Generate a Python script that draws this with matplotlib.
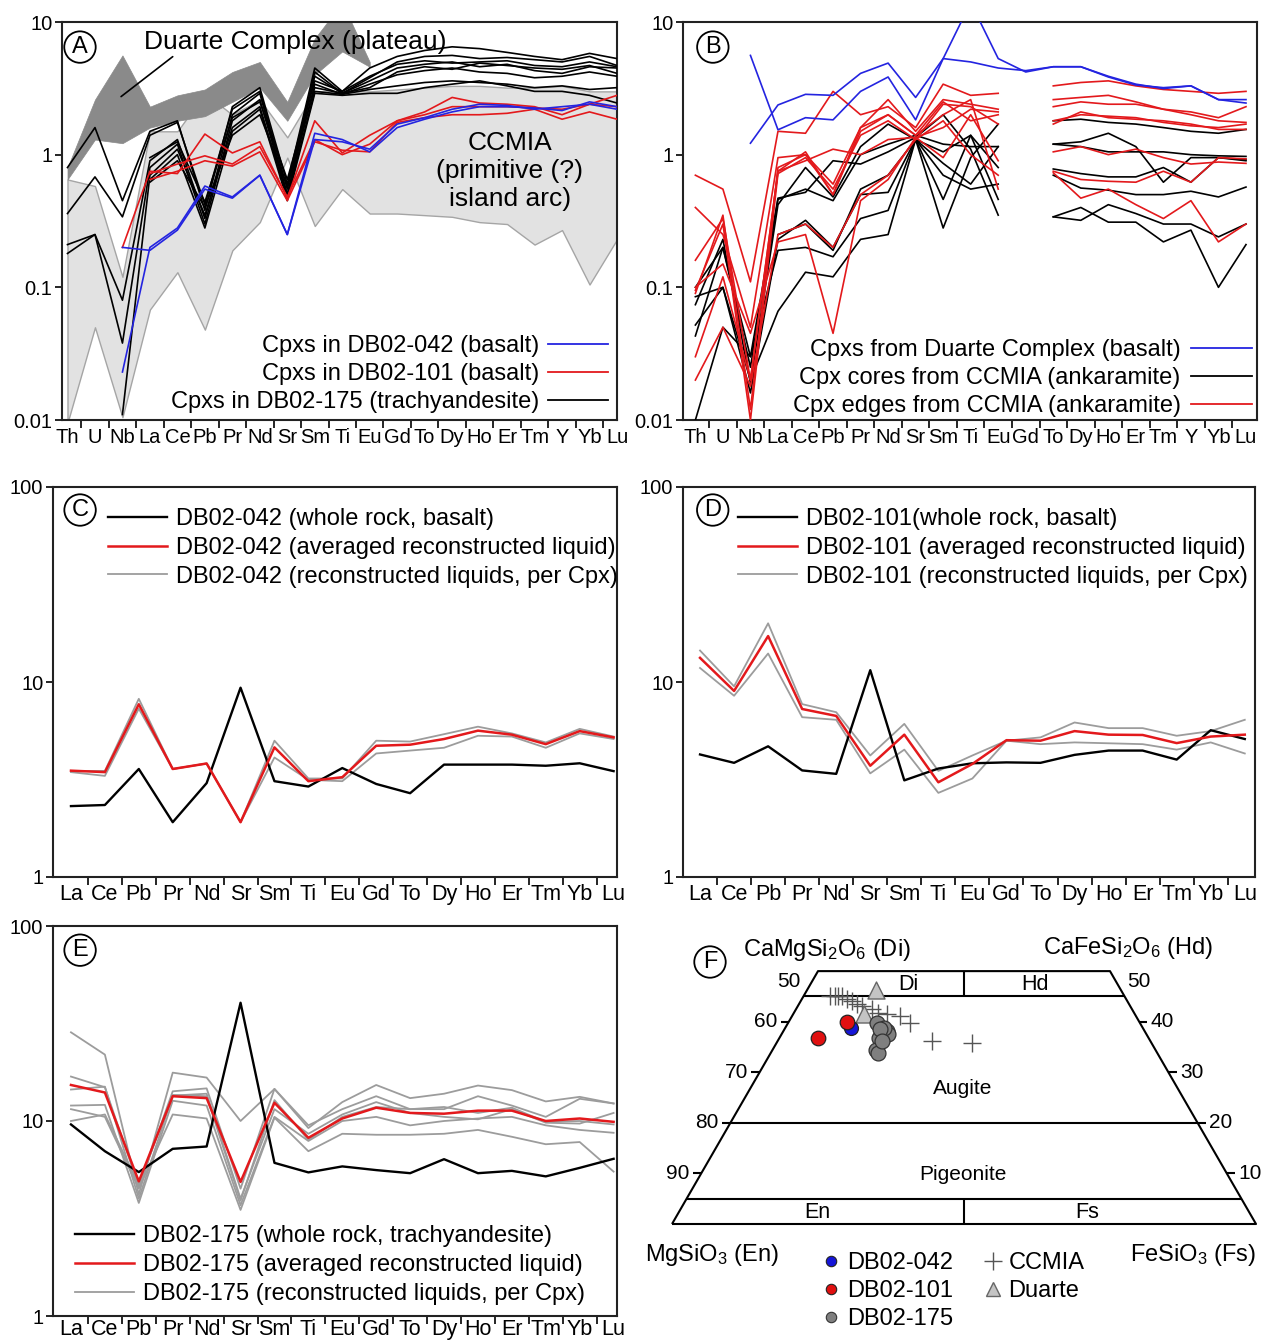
import matplotlib

matplotlib.use("Agg")

import matplotlib.pyplot as plt
import numpy as np
from matplotlib.lines import Line2D
from matplotlib.ticker import FixedLocator, NullLocator

plt.rcParams["font.family"] = ["Liberation Sans", "DejaVu Sans"]
plt.rcParams["mathtext.fontset"] = "custom"
plt.rcParams["mathtext.rm"] = "Liberation Sans"
plt.rcParams["mathtext.it"] = "Liberation Sans:italic"
plt.rcParams["mathtext.bf"] = "Liberation Sans:bold"

nan = np.nan

# ---------------------------------------------------------------- data
ELEM_AB = ["Th", "U", "Nb", "La", "Ce", "Pb", "Pr", "Nd", "Sr", "Sm", "Ti",
           "Eu", "Gd", "To", "Dy", "Ho", "Er", "Tm", "Y", "Yb", "Lu"]
ELEM_CDE = ["La", "Ce", "Pb", "Pr", "Nd", "Sr", "Sm", "Ti", "Eu", "Gd", "To",
            "Dy", "Ho", "Er", "Tm", "Yb", "Lu"]

# panel A: fields (Duarte Th..Eu, CCMIA Th..Lu)
DUARTE_HI = [0.8, 2.6, 5.6, 2.3, 2.8, 3.1, 4.2, 5.0, 2.5, 7.5, 14.0, 5.0]
DUARTE_LO = [0.65, 1.3, 1.22, 1.6, 1.8, 1.95, 2.5, 3.2, 1.8, 4.0, 6.0, 4.6]
CCMIA_HI = [0.65, 0.58, 0.12, 1.5, 1.5, 2.9, 2.0, 2.6, 1.35, 3.0, 3.0, 3.0,
            3.1, 3.2, 3.3, 3.3, 3.2, 3.2, 3.3, 3.0, 3.0]
CCMIA_LO = [0.0095, 0.05, 0.0105, 0.068, 0.13, 0.048, 0.19, 0.31, 0.95, 0.29,
            0.55, 0.36, 0.36, 0.35, 0.34, 0.31, 0.30, 0.21, 0.27, 0.105, 0.23]

# panel A: cpx patterns
A_DB042 = [
    [nan, nan, 0.2, 0.19, 0.27, 0.55, 0.47, 0.7, 0.25, 1.45, 1.3, 1.05, 1.6, 1.85, 2.1, 2.3, 2.3, 2.25, 2.15, 2.5, 2.3],
    [nan, nan, 0.023, 0.2, 0.28, 0.58, 0.48, 0.7, 0.25, 1.3, 1.25, 1.1, 1.7, 1.9, 2.2, 2.4, 2.35, 2.2, 2.3, 2.4, 2.2],
]
A_DB101 = [
    [nan, nan, 0.2, 0.75, 0.72, 1.43, 1.03, 1.25, 0.47, 1.8, 1.03, 1.4, 1.8, 2.1, 2.7, 2.45, 2.4, 2.3, 2.0, 2.4, 2.8],
    [nan, nan, nan, 0.72, 0.85, 0.98, 0.85, 1.15, 0.48, 1.3, 1.0, 1.2, 1.8, 2.0, 2.3, 2.3, 2.3, 2.25, 2.2, 2.4, 2.3],
    [nan, nan, nan, 0.65, 0.75, 0.9, 0.82, 1.05, 0.45, 1.25, 1.08, 1.05, 1.75, 1.9, 2.0, 2.0, 2.05, 2.2, 1.85, 2.1, 1.85],
]
A_DB175 = [
    [0.8, 1.6, 0.45, 1.5, 1.8, 0.38, 2.3, 3.2, 0.6, 4.5, 3.0, 4.5, 5.5, 6.1, 6.5, 6.3, 5.9, 5.5, 5.2, 5.8, 5.3],
    [0.36, 0.68, 0.34, 1.4, 1.75, 0.42, 2.2, 3.0, 0.55, 4.2, 2.9, 3.8, 5.0, 5.5, 5.6, 5.3, 5.4, 5.2, 5.0, 5.5, 4.7],
    [0.21, 0.25, 0.08, 0.9, 1.3, 0.33, 2.0, 2.9, 0.5, 3.9, 2.9, 3.6, 4.5, 4.8, 5.0, 4.6, 4.8, 4.3, 4.1, 4.6, 4.5],
    [0.18, 0.25, 0.038, 0.8, 1.2, 0.3, 1.8, 2.6, 0.5, 3.4, 2.85, 3.4, 4.0, 4.3, 4.5, 4.2, 4.1, 3.8, 3.9, 4.2, 3.9],
    [nan, nan, 0.011, 0.7, 1.1, 0.35, 1.6, 2.3, 0.48, 3.0, 2.85, 3.1, 3.3, 3.5, 3.6, 3.5, 3.4, 3.2, 3.3, 3.1, 3.2],
    [nan, nan, nan, 0.65, 1.0, 0.28, 1.5, 2.2, 0.45, 2.9, 2.8, 2.9, 2.9, 3.2, 3.4, 3.6, 3.3, 3.0, 3.0, 2.8, 2.45],
    [nan, nan, nan, 0.62, 0.9, 0.4, 1.4, 2.0, 0.58, 3.2, 2.9, 3.2, 4.2, 4.6, 4.4, 4.9, 4.7, 4.5, 4.4, 4.7, 4.1],
    [nan, nan, nan, 0.95, 1.25, 0.44, 1.9, 2.5, 0.65, 3.6, 3.0, 3.9, 4.8, 5.1, 4.9, 5.0, 5.1, 4.7, 4.6, 5.0, 4.6],
]

# panel B
B_DUARTE = [
    [nan, nan, 5.6, 1.54, 1.9, 1.83, 3.0, 3.85, 1.83, 5.3, 14.0, 5.3, 4.2, 4.6, 4.6, 3.85, 3.35, 3.2, 3.3, 2.6, 2.45],
    [nan, nan, 1.22, 2.37, 2.85, 2.8, 4.1, 4.9, 2.7, 5.3, 5.0, 4.5, 4.3, 4.6, 4.6, 3.9, 3.4, 3.15, 3.3, 2.6, 2.6],
]
B_CORES = [
    [0.01, 0.05, 0.03, 0.47, 0.52, 0.9, 0.85, 1.05, 1.35, 2.0, 1.1, 0.35, nan, 1.8, 1.85, 1.75, 1.7, 1.6, 1.5, 1.45, 1.55],
    [0.074, 0.23, 0.019, 0.42, 0.8, 0.48, 1.15, 1.7, 1.3, 1.05, 1.4, 0.46, nan, 1.2, 1.25, 1.45, 1.15, 0.62, 0.95, 0.95, 0.92],
    [0.052, 0.1, 0.016, 0.23, 0.32, 0.2, 0.5, 0.52, 1.3, 0.86, 0.6, 1.15, nan, 1.2, 1.15, 1.05, 1.05, 1.05, 1.0, 0.98, 0.97],
    [0.043, 0.2, 0.03, 0.19, 0.2, 0.17, 0.33, 0.38, 1.3, 0.46, 1.4, 0.8, nan, 0.78, 0.72, 0.68, 0.68, 0.8, 0.62, 0.95, 0.9],
    [0.085, 0.1, 0.02, 0.066, 0.13, 0.12, 0.23, 0.25, 1.3, 0.28, 0.95, 1.7, nan, 0.7, 0.56, 0.54, 0.5, 0.5, 0.53, 0.48, 0.57],
    [0.1, 0.2, 0.025, 0.46, 0.55, 0.45, 1.0, 1.2, 1.4, 1.2, 1.15, 1.15, nan, 0.34, 0.32, 0.42, 0.36, 0.3, 0.3, 0.24, 0.3],
    [nan, nan, nan, 0.25, 0.3, 0.19, 0.55, 0.7, 1.3, 0.7, 0.55, 0.6, nan, 0.34, 0.4, 0.31, 0.31, 0.22, 0.27, 0.1, 0.21],
]
B_EDGES = [
    [0.7, 0.55, 0.11, 1.5, 1.45, 3.0, 2.0, 2.3, 1.6, 3.4, 2.8, 2.9, nan, 3.3, 3.5, 3.6, 3.3, 3.1, 3.0, 2.9, 3.0],
    [0.4, 0.25, 0.05, 0.95, 1.0, 0.6, 1.6, 2.6, 1.5, 2.6, 2.4, 2.2, nan, 2.6, 2.7, 2.8, 2.5, 2.2, 2.1, 1.9, 2.3],
    [0.16, 0.33, 0.02, 0.75, 1.05, 0.5, 1.5, 2.0, 1.4, 2.5, 1.8, 2.0, nan, 2.3, 2.5, 2.4, 2.4, 2.2, 2.0, 1.8, 1.75],
    [0.095, 0.3, 0.01, 0.72, 0.95, 0.55, 1.4, 1.8, 1.3, 2.4, 2.3, 1.7, nan, 1.8, 2.0, 1.95, 1.9, 1.75, 1.65, 1.6, 1.7],
    [0.02, 0.05, 0.018, 0.25, 0.3, 0.2, 0.5, 0.7, 1.3, 1.8, 1.0, 0.7, nan, 1.7, 2.1, 1.9, 1.85, 1.8, 1.7, 1.55, 1.55],
    [0.1, 0.15, 0.045, 0.22, 0.25, 0.045, 0.45, 0.65, 1.35, 0.95, 2.0, 0.9, nan, 1.05, 1.15, 1.0, 1.1, 0.95, 0.85, 0.88, 0.86],
    [0.03, 0.12, 0.02, 0.75, 0.9, 1.1, 1.0, 1.3, 1.35, 1.6, 2.2, 2.1, nan, 0.75, 0.65, 0.63, 0.62, 0.75, 0.62, 0.95, 0.93],
    [0.09, 0.35, 0.012, 0.8, 1.0, 0.5, 1.6, 2.0, 1.4, 2.0, 2.6, 0.55, nan, 0.73, 0.47, 0.55, 0.42, 0.33, 0.45, 0.22, 0.3],
]

# panel C (DB02-042)
C_WR = [2.31, 2.34, 3.58, 1.91, 3.03, 9.35, 3.1, 2.91, 3.62, 3.0, 2.69, 3.77, 3.77, 3.77, 3.72, 3.83, 3.49]
C_AVG = [3.51, 3.45, 7.69, 3.58, 3.82, 1.91, 4.62, 3.1, 3.25, 4.71, 4.77, 5.1, 5.63, 5.37, 4.8, 5.6, 5.2]
C_CPX = [
    [3.5, 3.5, 8.2, 3.58, 3.82, 1.91, 5.0, 3.2, 3.2, 5.0, 4.95, 5.4, 5.9, 5.45, 4.9, 5.75, 5.25],
    [3.45, 3.3, 7.3, 3.58, 3.82, 1.91, 4.1, 3.15, 3.1, 4.3, 4.45, 4.6, 5.3, 5.25, 4.6, 5.45, 5.1],
]

# panel D (DB02-101)
D_WR = [4.25, 3.85, 4.68, 3.52, 3.38, 11.5, 3.13, 3.6, 3.83, 3.87, 3.85, 4.23, 4.45, 4.45, 4.0, 5.66, 5.1]
D_AVG = [13.3, 9.0, 17.2, 7.27, 6.7, 3.72, 5.37, 3.06, 3.8, 5.03, 5.0, 5.6, 5.37, 5.35, 4.86, 5.25, 5.37]
D_CPX = [
    [14.5, 9.5, 20.0, 7.7, 7.0, 4.2, 6.1, 3.5, 4.2, 5.0, 5.2, 6.2, 5.8, 5.8, 5.3, 5.6, 6.4],
    [11.8, 8.5, 14.0, 6.6, 6.4, 3.4, 4.5, 2.7, 3.2, 5.0, 4.8, 4.9, 4.85, 4.8, 4.5, 4.9, 4.3],
]

# panel E (DB02-175)
E_WR = [9.6, 7.0, 5.47, 7.2, 7.4, 40.4, 6.1, 5.45, 5.85, 5.6, 5.4, 6.37, 5.4, 5.55, 5.2, 5.75, 6.4]
E_AVG = [15.3, 14.0, 4.9, 13.4, 13.1, 4.87, 12.4, 8.2, 10.3, 11.7, 11.0, 10.9, 11.3, 11.3, 10.0, 10.3, 9.9]
E_CPX = [
    [28.5, 21.9, 4.2, 17.7, 16.7, 10.0, 14.6, 9.2, 12.5, 15.3, 13.1, 13.8, 15.2, 14.4, 12.6, 13.3, 12.3],
    [16.9, 14.9, 4.6, 14.2, 14.7, 4.5, 14.6, 9.5, 11.5, 13.4, 11.5, 11.5, 13.4, 12.0, 10.5, 13.0, 12.3],
    [14.5, 15.0, 4.0, 13.5, 13.8, 4.0, 11.5, 8.6, 10.8, 12.5, 11.0, 10.5, 10.2, 11.5, 9.8, 9.7, 11.0],
    [12.0, 12.1, 3.8, 12.7, 12.0, 3.7, 10.5, 7.9, 10.0, 10.5, 9.5, 10.0, 10.3, 10.5, 9.5, 9.0, 8.7],
    [11.5, 10.5, 4.5, 10.8, 10.3, 3.5, 10.4, 7.0, 8.6, 8.5, 8.5, 8.6, 9.0, 8.3, 7.6, 7.8, 5.5],
    [10.0, 10.8, 4.7, 13.6, 13.4, 3.9, 12.8, 8.0, 10.5, 11.8, 11.5, 11.8, 11.0, 11.7, 9.9, 10.0, 9.6],
]

# panel F: pyroxene compositions (Wo %, Fs %)
F042_WO, F042_FS = [38.8], [11.25]
F101_WO, F101_FS = [36.8, 39.9], [6.65, 9.95]
F175_WO = [39.8, 38.15, 36.85, 37.5, 38.8, 34.5, 33.9, 38.5, 36.1]
F175_FS = [15.25, 17.7, 17.1, 18.3, 16.95, 17.7, 18.35, 16.35, 17.9]
DUARTE_WO, DUARTE_FS = [46.3, 41.5], [11.75, 12.15]
CCMIA_WO = [45.1, 45.1, 45.0, 45.0, 44.4, 44.1, 43.5, 43.1, 42.5, 41.8, 41.5, 41.1, 39.8, 36.2, 35.85]
CCMIA_FS = [4.5, 5.35, 5.9, 6.55, 7.7, 8.75, 9.85, 10.95, 12.95, 14.4, 16.05, 18.45, 20.85, 26.4, 33.4]

BLUE = "#2424e0"
RED = "#e3191c"
GREY = "#9c9c9c"

W, H = 1261, 1344
fig = plt.figure(figsize=(W / 100, H / 100), dpi=100)


def px_axes(left, top, right, bottom):
    return fig.add_axes([left / W, 1 - bottom / H, (right - left) / W, (bottom - top) / H])


def setup_spider(ax, elems, xlim, ylim, yvals, xfs, xpad=6):
    ax.set_yscale("log")
    ax.set_xlim(*xlim)
    ax.set_ylim(*ylim)
    ax.set_xticks(range(len(elems)))
    ax.set_xticklabels(elems, fontsize=xfs)
    ax.xaxis.set_minor_locator(FixedLocator(np.arange(len(elems) - 1) + 0.5))
    ax.tick_params(axis="x", which="major", length=0, pad=xpad)
    ax.tick_params(axis="x", which="minor", length=6, width=1.2, direction="out")
    ax.set_yticks(yvals)
    ax.set_yticklabels([f"{v:g}" for v in yvals], fontsize=14.5)
    ax.yaxis.set_minor_locator(NullLocator())
    ax.tick_params(axis="y", length=5, width=1.2, pad=2)
    for s in ax.spines.values():
        s.set_linewidth(1.5)
        s.set_color("#222222")


def circle_label(ax, letter, x, y, transform=None):
    ax.text(x, y, letter, transform=transform or ax.transAxes, fontsize=17,
            ha="center", va="center", zorder=10,
            bbox=dict(boxstyle="circle,pad=0.2", fc="white", ec="black", lw=1.3))


# ---------------------------------------------------------------- A
axA = px_axes(62, 22, 617, 420)
setup_spider(axA, ELEM_AB, (-0.2, 20), (0.01, 10), [0.01, 0.1, 1, 10], 14.5)
xa = np.arange(len(ELEM_AB))
axA.fill_between(xa, CCMIA_LO, CCMIA_HI, facecolor="#e2e2e2", edgecolor="#a5a5a5", lw=1.0, zorder=1)
xd = np.arange(len(DUARTE_HI))
axA.fill_between(xd, DUARTE_LO, DUARTE_HI, facecolor="#8a8a8a", edgecolor="#8a8a8a", lw=0.5, zorder=2)
for s in A_DB175:
    axA.plot(xa, s, color="black", lw=1.2, zorder=3)
for s in A_DB101:
    axA.plot(xa, s, color=RED, lw=1.2, zorder=4)
for s in A_DB042:
    axA.plot(xa, s, color=BLUE, lw=1.2, zorder=4)
axA.text(0.42, 0.95, "Duarte Complex (plateau)", transform=axA.transAxes,
         fontsize=19, ha="center", va="center", zorder=6)
axA.annotate("", xy=(1.95, 2.74), xytext=(3.83, 5.48),
             arrowprops=dict(arrowstyle="-", color="black", lw=1.2, shrinkA=0, shrinkB=0), zorder=6)
axA.text(0.807, 0.626, "CCMIA\n(primitive (?)\nisland arc)", transform=axA.transAxes,
         fontsize=19, ha="center", va="center", linespacing=1.2, zorder=6)
circle_label(axA, "A", 0.0324, 0.937)
hA = [Line2D([], [], color=c, lw=1.3) for c in (BLUE, RED, "black")]
axA.legend(hA, ["Cpxs in DB02-042 (basalt)", "Cpxs in DB02-101 (basalt)",
                "Cpxs in DB02-175 (trachyandesite)"],
           loc="lower right", bbox_to_anchor=(1 - 9 / 555, 7 / 398), markerfirst=False,
           frameon=False, fontsize=17, handlelength=2.55, handletextpad=0.35,
           labelspacing=0.25, borderpad=0, borderaxespad=0)

# ---------------------------------------------------------------- B
axB = px_axes(683, 22, 1257, 420)
setup_spider(axB, ELEM_AB, (-0.45, 20.4), (0.01, 10), [0.01, 0.1, 1, 10], 14.5)
for s in B_CORES:
    axB.plot(xa, s, color="black", lw=1.2, zorder=3)
for s in B_EDGES:
    axB.plot(xa, s, color=RED, lw=1.2, zorder=4)
for s in B_DUARTE:
    axB.plot(xa, s, color=BLUE, lw=1.2, zorder=5)
circle_label(axB, "B", 0.052, 0.937)
hB = [Line2D([], [], color=c, lw=1.3) for c in (BLUE, "black", RED)]
axB.legend(hB, ["Cpxs from Duarte Complex (basalt)", "Cpx cores from CCMIA (ankaramite)",
                "Cpx edges from CCMIA (ankaramite)"],
           loc="lower right", bbox_to_anchor=(1 - 5 / 574, 3 / 398), markerfirst=False,
           frameon=False, fontsize=17, handlelength=2.6, handletextpad=0.42,
           labelspacing=0.25, borderpad=0, borderaxespad=0)


# ---------------------------------------------------------------- C, D, E
def liquid_panel(box, xlim, wr, avg, cpx, letter, letter_xy, labels, leg_kw, xpad=5):
    ax = px_axes(*box)
    setup_spider(ax, ELEM_CDE, xlim, (1, 100), [1, 10, 100], 15.5, xpad)
    x = np.arange(len(ELEM_CDE))
    for s in cpx:
        ax.plot(x, s, color=GREY, lw=1.3, zorder=2)
    ax.plot(x, wr, color="black", lw=1.7, zorder=3)
    ax.plot(x, avg, color=RED, lw=1.8, zorder=4)
    circle_label(ax, letter, *letter_xy)
    hs = [Line2D([], [], color="black", lw=1.7), Line2D([], [], color=RED, lw=1.8),
          Line2D([], [], color=GREY, lw=1.3)]
    ax.legend(hs, labels, frameon=False, fontsize=17, handlelength=2.5, handletextpad=0.4,
              labelspacing=0.29, borderpad=0, borderaxespad=0, **leg_kw)
    return ax


liquid_panel((53, 487, 617, 877), (-0.53, 16.1), C_WR, C_AVG, C_CPX, "C", (0.048, 0.941),
             ["DB02-042 (whole rock, basalt)", "DB02-042 (averaged reconstructed liquid)",
              "DB02-042 (reconstructed liquids, per Cpx)"],
             dict(loc="upper left", bbox_to_anchor=(55 / 564, 1 - 21 / 390)))
liquid_panel((683, 487, 1255, 877), (-0.5, 16.3), D_WR, D_AVG, D_CPX, "D", (0.052, 0.941),
             ["DB02-101(whole rock, basalt)", "DB02-101 (averaged reconstructed liquid)",
              "DB02-101 (reconstructed liquids, per Cpx)"],
             dict(loc="upper left", bbox_to_anchor=(55 / 572, 1 - 21 / 390)))
liquid_panel((53, 926, 617, 1316), (-0.53, 16.1), E_WR, E_AVG, E_CPX, "E", (0.048, 0.938),
             ["DB02-175 (whole rock, trachyandesite)", "DB02-175 (averaged reconstructed liquid)",
              "DB02-175 (reconstructed liquids, per Cpx)"],
             dict(loc="lower left", bbox_to_anchor=(22 / 564, 11 / 390)), xpad=2)

# ---------------------------------------------------------------- F
PPU = 5.84          # pixels per ternary unit
X0, Y0 = 672, 1224  # pixel position of En corner
axF = px_axes(640, 925, 1261, 1344)
axF.set_xlim((640 - X0) / PPU, (1261 - X0) / PPU)
axF.set_ylim((Y0 - 1344) / PPU, (Y0 - 925) / PPU)
axF.axis("off")
S3 = np.sqrt(3) / 2


def tern(wo, fs):
    wo, fs = np.asarray(wo, float), np.asarray(fs, float)
    return fs + wo / 2, wo * S3


def P(px, py):
    return (px - X0) / PPU, (Y0 - py) / PPU


lk = dict(color="black", lw=1.5, solid_capstyle="butt", zorder=2)
axF.plot([0, 100, 75, 25, 0], [0, 0, 50 * S3, 50 * S3, 0], **lk)
for wo in (45, 20, 5):
    axF.plot([wo / 2, 100 - wo / 2], [wo * S3, wo * S3], **lk)
axF.plot([50, 50], [45 * S3, 50 * S3], **lk)
axF.plot([50, 50], [0, 5 * S3], **lk)
for wo in (10, 20, 30, 40):
    y = wo * S3
    axF.plot([wo / 2 - 1.4, wo / 2], [y, y], **lk)
    axF.plot([100 - wo / 2, 100 - wo / 2 + 1.4], [y, y], **lk)
for wo in (10, 20, 30, 40, 50):
    yl = (wo - 2.0 if wo == 50 else wo) * S3
    xl = (wo - 2.0 if wo == 50 else wo) / 2
    axF.text(xl - 2.0, yl, f"{100 - wo}", fontsize=15, ha="right", va="center")
    axF.text(100 - xl + 2.0, yl, f"{wo}", fontsize=15, ha="left", va="center")

for txt, px, py, fs in [("Di", 908, 985, 15.5), ("Hd", 1035, 985, 15.5), ("Augite", 963, 1088, 15),
                        ("Pigeonite", 963, 1174, 15), ("En", 817, 1213, 15.5), ("Fs", 1087, 1213, 15.5),
                        ("CaMgSi$_2$O$_6$ (Di)", 827, 950, 17), ("CaFeSi$_2$O$_6$ (Hd)", 1128, 948, 17),
                        ("MgSiO$_3$ (En)", 712, 1255, 17), ("FeSiO$_3$ (Fs)", 1193, 1255, 17)]:
    axF.text(*P(px, py), txt, fontsize=fs, ha="center", va="center")
circle_label(axF, "F", *P(710, 962), transform=axF.transData)

axF.scatter(*tern(CCMIA_WO, CCMIA_FS), marker="+", s=150, color="#555555", lw=1.0, zorder=3)
axF.scatter(*tern(DUARTE_WO, DUARTE_FS), marker="^", s=150, facecolor="#c4c4c4",
            edgecolor="#666666", lw=1.0, zorder=4)
axF.scatter(*tern(F175_WO, F175_FS), marker="o", s=115, facecolor="#7f7f7f",
            edgecolor="#333333", lw=0.9, zorder=5)
axF.scatter(*tern(F101_WO, F101_FS), marker="o", s=110, facecolor="#e01010",
            edgecolor="#222222", lw=0.9, zorder=6)
axF.scatter(*tern(F042_WO, F042_FS), marker="o", s=100, facecolor="#1515d8",
            edgecolor="#222222", lw=0.9, zorder=5)

hF = [Line2D([], [], ls="none", marker="o", ms=7.5, mfc="#1515d8", mec="#222222", mew=0.8),
      Line2D([], [], ls="none", marker="o", ms=7.5, mfc="#e01010", mec="#222222", mew=0.8),
      Line2D([], [], ls="none", marker="o", ms=7.5, mfc="#7f7f7f", mec="#333333", mew=0.8),
      Line2D([], [], ls="none", marker="+", ms=13, mec="#555555", mew=1.0),
      Line2D([], [], ls="none", marker="^", ms=10, mfc="#c4c4c4", mec="#666666", mew=1.0)]
axF.legend(hF, ["DB02-042", "DB02-101", "DB02-175", "CCMIA", "Duarte"], ncol=2,
           loc="upper left", bbox_to_anchor=(822 / W, 1 - 1252 / H), bbox_transform=fig.transFigure,
           frameon=False, fontsize=17, handlelength=0.8, handletextpad=0.25,
           labelspacing=0.25, columnspacing=1.3, borderpad=0, borderaxespad=0)

fig.savefig("out.png", dpi=100)
